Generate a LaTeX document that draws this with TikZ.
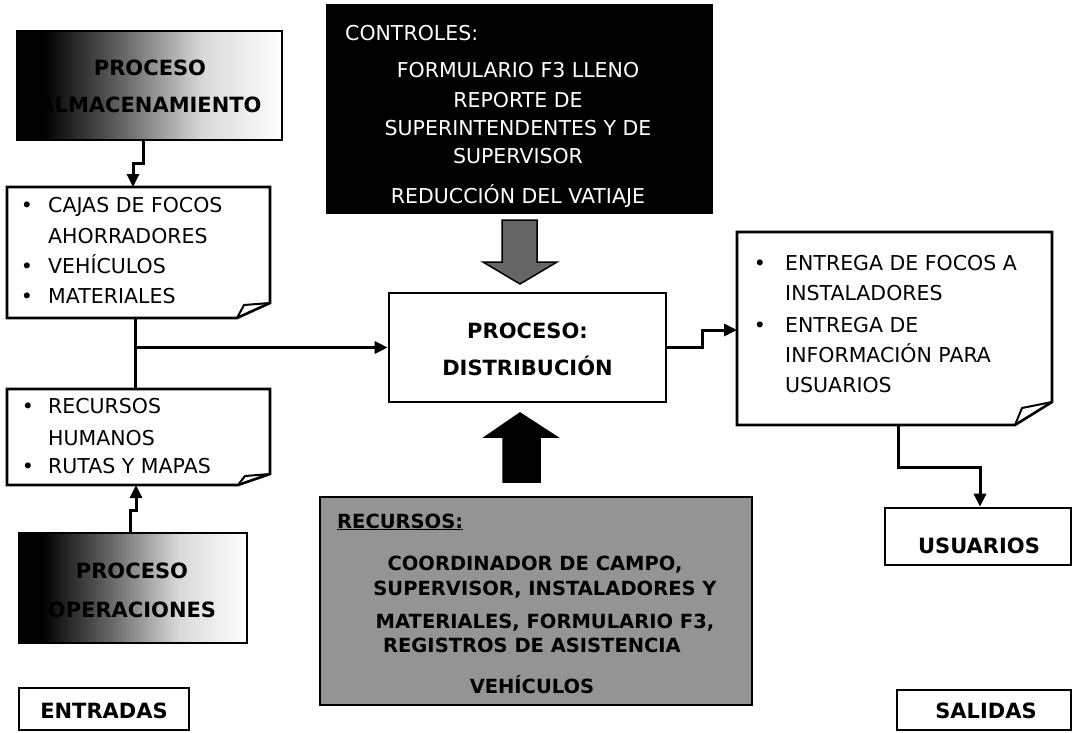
\documentclass[tikz,border=0pt]{standalone}
\usepackage{fontspec}
\setmainfont{DejaVu Sans}
\usetikzlibrary{arrows.meta,calc}
\pgfdeclarehorizontalshading{procshade}{100bp}{color(0bp)=(black); color(30bp)=(black); color(45bp)=(black!60); color(60bp)=(black!15); color(75bp)=(white); color(100bp)=(white)}
\tikzset{
  box/.style={draw=black, line width=2.6pt, inner sep=0pt},
  holder/.style={inner sep=0pt, outer sep=0pt},
  outline/.style={draw=black, line width=2.6pt, fill=white},
  fold/.style={draw=black, line width=2pt, line join=round},
  conn/.style={line width=3pt, -{Triangle[length=13pt,width=12pt]}},
  plain/.style={line width=3pt},
  txt/.style={anchor=base, inner sep=0pt, font=\fontsize{20.5}{24}\selectfont},
  ltxt/.style={txt, anchor=base west},
  btxt/.style={anchor=base, inner sep=0pt, font=\fontsize{21}{24}\selectfont\bfseries},
  rtxt/.style={anchor=base, inner sep=0pt, font=\fontsize{19.5}{24}\selectfont\bfseries},
  wtxt/.style={txt, text=white},
  blockarrow/.style={draw=black, line width=1.5pt, line join=miter},
}
\begin{document}
\begin{tikzpicture}[x=1pt,y=-1pt]
\useasboundingbox (0,0) rectangle (1072,732);

% ---------- left column ----------
\node[box, shade, shading=procshade, minimum width=265, minimum height=109] (alm) at (149.5,85.5) {};
\node[btxt] (alm1) at (150,75) {PROCESO};
\node[btxt] (alm2) at (150,112) {ALMACENAMIENTO};

\node[holder, minimum width=263, minimum height=131] (cajas) at (138.5,252.5) {};
\draw[outline] (cajas.north west) -- (cajas.north east) -- ($(cajas.south east)+(0,-15)$) -- ($(cajas.south east)+(-33,0)$) -- (cajas.south west) -- cycle;
\draw[fold] ($(cajas.south east)+(-33,0)$) -- ($(cajas.south east)+(-26,-13)$) -- ($(cajas.south east)+(0,-15)$);
\node[txt] (cb1) at (27,212) {•};
\node[ltxt] (c1) at (48,212) {CAJAS DE FOCOS};
\node[ltxt] (c2) at (48,243) {AHORRADORES};
\node[txt] (cb2) at (27,273) {•};
\node[ltxt] (c3) at (48,273) {VEHÍCULOS};
\node[txt] (cb3) at (27,303) {•};
\node[ltxt] (c4) at (48,303) {MATERIALES};

\node[holder, minimum width=263, minimum height=96] (rech) at (138.5,437) {};
\draw[outline] (rech.north west) -- (rech.north east) -- ($(rech.south east)+(0,-11)$) -- ($(rech.south east)+(-32,0)$) -- (rech.south west) -- cycle;
\draw[fold] ($(rech.south east)+(-32,0)$) -- ($(rech.south east)+(-25,-9)$) -- ($(rech.south east)+(0,-11)$);
\node[txt] (rb1) at (28,413) {•};
\node[ltxt] (r1) at (48,413) {RECURSOS};
\node[ltxt] (r2) at (48,445) {HUMANOS};
\node[txt] (rb2) at (28,473) {•};
\node[ltxt] (r3) at (48,473) {RUTAS Y MAPAS};

\node[box, shade, shading=procshade, minimum width=228, minimum height=110] (oper) at (133,588) {};
\node[btxt] (op1) at (132,578) {PROCESO};
\node[btxt] (op2) at (132,617) {OPERACIONES};

\node[box, fill=white, minimum width=170, minimum height=42] (entr) at (104,709) {};
\node[btxt] (entrt) at (104,718) {ENTRADAS};

% ---------- centre column ----------
\node[box, fill=black, minimum width=385, minimum height=208] (ctrl) at (519.5,109) {};
\node[wtxt, anchor=base west] (ct0) at (345,40) {CONTROLES:};
\node[wtxt] (ct1) at (518,77) {FORMULARIO F3 LLENO};
\node[wtxt] (ct2) at (518,107) {REPORTE DE};
\node[wtxt] (ct3) at (518,135) {SUPERINTENDENTES Y DE};
\node[wtxt] (ct4) at (518,163) {SUPERVISOR};
\node[wtxt] (ct5) at (518,203) {REDUCCIÓN DEL VATIAJE};

\draw[blockarrow, fill=black!60] (502,220) -- (537,220) -- (537,262) -- (557,262) -- (520,284) -- (483,262) -- (502,262) -- cycle;

\node[box, fill=white, minimum width=277, minimum height=109] (dist) at (527.5,347.5) {};
\node[btxt] (d1t) at (527.5,338) {PROCESO:};
\node[btxt] (d2t) at (527.5,375) {DISTRIBUCIÓN};

\draw[blockarrow, fill=black] (503,482) -- (540,482) -- (540,437) -- (557,437) -- (520,413) -- (485,437) -- (503,437) -- cycle;

\node[box, fill=black!42, minimum width=432, minimum height=208] (recu) at (536,601) {};
\node[rtxt, anchor=base west] (rc0) at (337,528) {\underline{RECURSOS:}};
\node[rtxt] (rc1) at (535,570) {COORDINADOR DE CAMPO,};
\node[rtxt] (rc2) at (545,595) {SUPERVISOR, INSTALADORES Y};
\node[rtxt] (rc3) at (545,628) {MATERIALES, FORMULARIO F3,};
\node[rtxt] (rc4) at (532,652) {REGISTROS DE ASISTENCIA};
\node[rtxt] (rc5) at (532,693) {VEHÍCULOS};

% ---------- right column ----------
\node[holder, minimum width=315, minimum height=193] (ent) at (894.5,328.5) {};
\draw[outline] (ent.north west) -- (ent.north east) -- ($(ent.south east)+(0,-23)$) -- ($(ent.south east)+(-37,0)$) -- (ent.south west) -- cycle;
\draw[fold] ($(ent.south east)+(-37,0)$) -- ($(ent.south east)+(-30,-17)$) -- ($(ent.south east)+(0,-23)$);
\node[txt] (eb1) at (760,270) {•};
\node[ltxt] (e1t) at (785,270) {ENTREGA DE FOCOS A};
\node[ltxt] (e2t) at (785,300) {INSTALADORES};
\node[txt] (eb2) at (760,332) {•};
\node[ltxt] (e3t) at (785,332) {ENTREGA DE};
\node[ltxt] (e4t) at (785,362) {INFORMACIÓN PARA};
\node[ltxt] (e5t) at (785,392) {USUARIOS};

\node[box, fill=white, minimum width=186, minimum height=57] (usu) at (978,536.5) {};
\node[btxt] (usut) at (979,553) {USUARIOS};

\node[box, fill=white, minimum width=174, minimum height=40] (sal) at (984,710) {};
\node[btxt] (salt) at (986,718) {SALIDAS};

% ---------- connectors ----------
\coordinate (a1) at (143,163);
\coordinate (a2) at (133,163);
\draw[conn] (a1 |- alm.south) -- (a1) -- (a2) -- (a2 |- cajas.north);

\coordinate (j) at (135,347.5);
\draw[plain] (j |- cajas.south) -- (j |- rech.north);
\draw[conn] (j) -- (dist.west);

\coordinate (o1) at (130,510);
\coordinate (o2) at (136,510);
\draw[conn] (o1 |- oper.north) -- (o1) -- (o2) -- (o2 |- rech.south);

\coordinate (m1) at (702,347.5);
\coordinate (m2) at (702,330);
\draw[conn] (dist.east) -- (m1) -- (m2) -- (m2 -| ent.west);

\coordinate (u1) at (898,467);
\coordinate (u2) at (980,467);
\draw[conn] (u1 |- ent.south) -- (u1) -- (u2) -- (u2 |- usu.north);
\end{tikzpicture}
\end{document}
